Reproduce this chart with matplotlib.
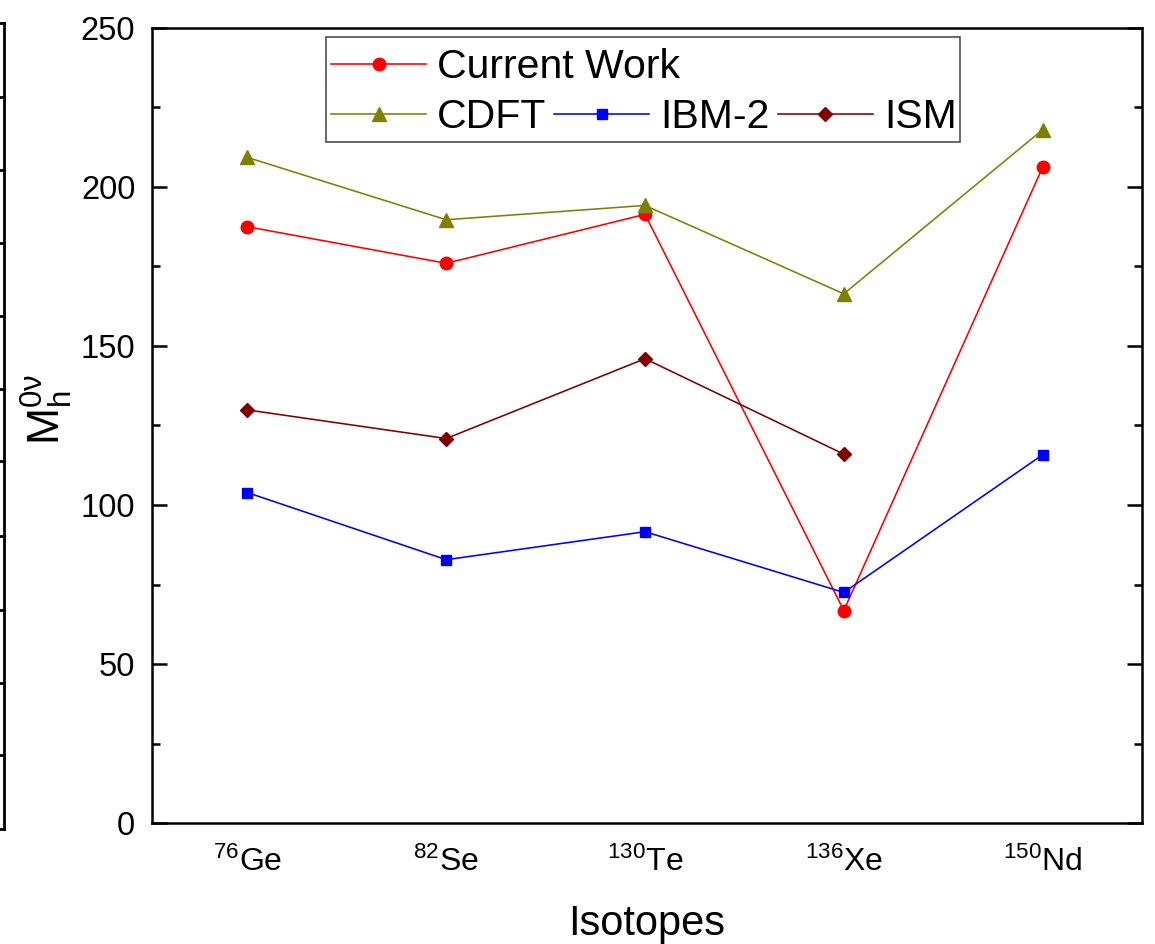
import matplotlib
matplotlib.use("Agg")
import matplotlib.pyplot as plt
from matplotlib.lines import Line2D
from matplotlib.patches import Rectangle
from matplotlib.ticker import MultipleLocator

# Isotopes and nuclear matrix elements M^{0v}_h
isotopes = [r"$^{76}$Ge", r"$^{82}$Se", r"$^{130}$Te", r"$^{136}$Xe", r"$^{150}$Nd"]
current_work = [187.5, 176.0, 191.4, 66.8, 206.2]
cdft = [209.3, 189.7, 194.2, 166.4, 218.0]
ibm2 = [103.9, 82.8, 91.6, 72.5, 115.8]
ism_isotopes = [0, 1, 2, 3]
ism = [129.9, 120.9, 146.0, 116.0]

plt.rcParams["font.family"] = ["Liberation Sans", "DejaVu Sans"]
plt.rcParams["mathtext.fontset"] = "custom"
plt.rcParams["mathtext.rm"] = "Liberation Sans"
plt.rcParams["mathtext.it"] = "Liberation Sans:italic"
plt.rcParams["mathtext.bf"] = "Liberation Sans:bold"

W, H = 1155, 944
fig = plt.figure(figsize=(W / 100, H / 100), dpi=100)
ax = fig.add_axes([152 / W, 1 - 823 / H, 990 / W, 795 / H])

x = list(range(1, len(isotopes) + 1))
lw = 1.15
h_cw, = ax.plot(x, current_work, color="#ff0000", lw=lw, marker="o", ms=9,
                label="Current Work")
h_cdft, = ax.plot(x, cdft, color="#808000", lw=lw, marker="^", ms=10, label="CDFT")
h_ibm, = ax.plot(x, ibm2, color="#0000ff", lw=lw, marker="s", ms=7.8, label="IBM-2")
h_ism, = ax.plot([x[i] for i in ism_isotopes], ism, color="#800000", lw=lw,
                 marker="D", ms=7.0, label="ISM")

ax.set_xlim(0.52, 5.5)
ax.set_ylim(0, 250)
ax.set_xticks(x)
ax.set_xticklabels(isotopes, fontsize=23)
ax.yaxis.set_major_locator(MultipleLocator(50))
ax.yaxis.set_minor_locator(MultipleLocator(25))
ax.tick_params(axis="y", which="both", direction="in", left=True, right=True,
               width=1.8, labelsize=23.5, pad=12)
ax.tick_params(axis="y", which="major", length=10.5)
ax.tick_params(axis="y", which="minor", length=5.8)
ax.tick_params(axis="x", which="both", length=0, pad=17)
for sp in ax.spines.values():
    sp.set_linewidth(1.8)

ax.set_xlabel("Isotopes", fontsize=30, labelpad=19)
ax.set_ylabel(r"$\mathrm{M}^{\mathrm{0\nu}}_{\mathrm{h}}$", fontsize=32)
ax.yaxis.set_label_coords(-0.078, 0.52)

# Legend: one entry on the first row, three on the second, inside one frame
fs_leg = 29.5
em = fs_leg * 100 / 72
common = dict(frameon=False, borderpad=0, borderaxespad=0, handlelength=95 / em,
              handletextpad=11 / em, fontsize=fs_leg, bbox_transform=fig.transFigure,
              loc="center left")
leg1 = ax.legend([h_cw], ["Current Work"], bbox_to_anchor=(331 / W, 1 - 67 / H), **common)
ax.add_artist(leg1)
ax.legend([h_cdft, h_ibm, h_ism], ["CDFT", "IBM-2", "ISM"], ncol=3,
          columnspacing=8 / em, bbox_to_anchor=(331 / W, 1 - 117 / H), **common)
fig.add_artist(Rectangle((326 / W, 1 - 142 / H), (960 - 326) / W, (142 - 37) / H,
                         transform=fig.transFigure, fill=False, ec="#404040", lw=1.1))

# Edge of the neighbouring panel at the left border
edge_kw = dict(transform=fig.transFigure, color="black", lw=2.0)
fig.add_artist(Line2D([4 / W, 4 / W], [1 - 23 / H, 1 - 829 / H], **edge_kw))
fig.add_artist(Line2D([0, 4 / W], [1 - 23 / H, 1 - 23 / H], **edge_kw))
fig.add_artist(Line2D([0, 4 / W], [1 - 829 / H, 1 - 829 / H], **edge_kw))
for ty in [97, 170, 243, 316, 389, 461, 536, 610, 683, 755]:
    fig.add_artist(Line2D([0, 4 / W], [1 - ty / H, 1 - ty / H], **edge_kw))

fig.savefig("out.png", dpi=100)
